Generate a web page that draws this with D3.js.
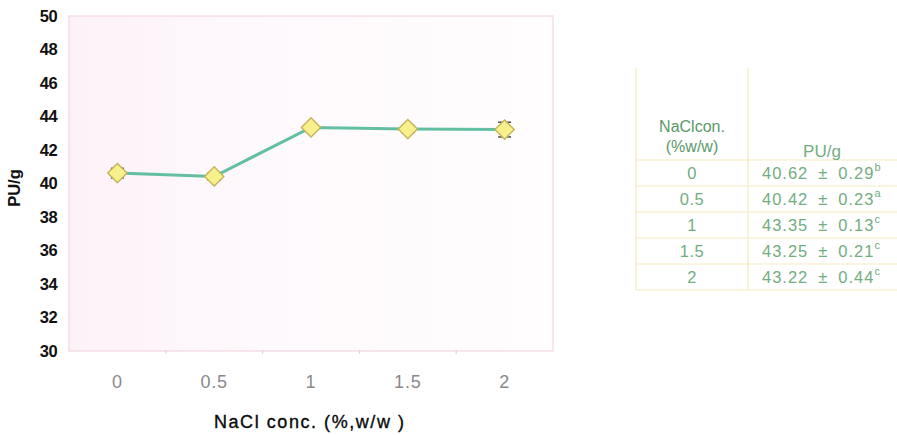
<!DOCTYPE html>
<html>
<head>
<meta charset="utf-8">
<script src="https://cdn.jsdelivr.net/npm/d3@7"></script>
<style>
  html, body { margin: 0; padding: 0; background: #ffffff; }
  svg { display: block; font-family: "Liberation Sans", Arial, sans-serif; }
</style>
</head>
<body>
<svg id="chart" width="897" height="435"></svg>
<script>
// NaCl concentration (% w/w) and protease activity (PU/g)
const categories = ["0", "0.5", "1", "1.5", "2"];
const puValues = [40.62, 40.42, 43.35, 43.25, 43.22];
const puSD = [0.29, 0.23, 0.13, 0.21, 0.44];
const sigLetters = ["b", "a", "c", "c", "c"];
const yTicks = [30, 32, 34, 36, 38, 40, 42, 44, 46, 48, 50];
const tableHeader = ["NaClcon.", "(%w/w)", "PU/g"];

const svg = d3.select("#chart");

// ---- plot frame ----
const plot = { left: 69, right: 553, top: 16, bottom: 351 };

const x = d3.scaleBand().domain(categories).range([plot.left, plot.right]);
const y = d3.scaleLinear().domain([30, 50]).range([plot.bottom, plot.top]);

const defs = svg.append("defs");
const grad = defs.append("linearGradient").attr("id", "bg").attr("x1", "0").attr("x2", "1").attr("y1", "0").attr("y2", "0");
grad.append("stop").attr("offset", "0").attr("stop-color", "#fdf2f8");
grad.append("stop").attr("offset", "0.4").attr("stop-color", "#fef9fc");
grad.append("stop").attr("offset", "1").attr("stop-color", "#fffdfe");

svg.append("rect")
  .attr("x", plot.left).attr("y", plot.top)
  .attr("width", plot.right - plot.left).attr("height", plot.bottom - plot.top)
  .attr("fill", "url(#bg)")
  .attr("stroke", "#f4d6e1").attr("stroke-width", 1.2);

// y axis
const yAxis = d3.axisLeft(y).tickValues(yTicks).tickSize(0).tickPadding(12);
const gy = svg.append("g").attr("transform", `translate(${plot.left},0)`).call(yAxis);
gy.select(".domain").remove();
gy.selectAll("text")
  .attr("font-family", "'Liberation Sans', Arial, sans-serif")
  .attr("font-size", 16.5).attr("font-weight", "bold")
  .attr("letter-spacing", -0.6)
  .attr("fill", "#111");

// x axis with small ticks at band boundaries
const gx = svg.append("g").attr("transform", `translate(0,${plot.bottom})`);
gx.call(d3.axisBottom(x).tickSize(0).tickPadding(24));
gx.select(".domain").remove();
gx.selectAll("text")
  .attr("font-family", "'Liberation Sans', Arial, sans-serif")
  .attr("font-size", 18).attr("fill", "#8a8a8a")
  .attr("letter-spacing", 0.8);
gx.selectAll(".boundary")
  .data(categories.slice(1))
  .enter().append("line")
  .attr("class", "boundary")
  .attr("x1", d => x(d)).attr("x2", d => x(d))
  .attr("y1", -1).attr("y2", 3)
  .attr("stroke", "#f0cdda").attr("stroke-width", 1.2);

// axis titles
svg.append("text")
  .attr("x", 309).attr("y", 428)
  .attr("text-anchor", "middle")
  .attr("font-size", 18).attr("fill", "#0a0a0a")
  .attr("stroke", "#0a0a0a").attr("stroke-width", 0.35)
  .attr("textLength", 190).attr("lengthAdjust", "spacing")
  .text("NaCl conc. (%,w/w )");

svg.append("text")
  .attr("transform", "translate(20,188) rotate(-90)")
  .attr("text-anchor", "middle")
  .attr("font-size", 16.5).attr("font-weight", "bold").attr("fill", "#111")
  .text("PU/g");

// ---- series ----
const cx = d => x(d) + x.bandwidth() / 2;
const points = categories.map((c, i) => ({ c, v: puValues[i], sd: puSD[i] }));

svg.append("path")
  .datum(points)
  .attr("fill", "none")
  .attr("stroke", "#63bfa2")
  .attr("stroke-width", 3)
  .attr("d", d3.line().x(d => cx(d.c)).y(d => y(d.v)));

// error bars (mean ± SD), behind the markers
const eb = svg.append("g").attr("stroke", "#444").attr("stroke-width", 1.4);
points.forEach(d => {
  const xc = cx(d.c);
  eb.append("line").attr("x1", xc).attr("x2", xc).attr("y1", y(d.v - d.sd)).attr("y2", y(d.v + d.sd));
  [d.v - d.sd, d.v + d.sd].forEach(v => {
    eb.append("line").attr("x1", xc - 6.5).attr("x2", xc + 6.5).attr("y1", y(v)).attr("y2", y(v));
  });
});

// diamond markers
svg.append("g").selectAll("path")
  .data(points)
  .enter().append("path")
  .attr("transform", d => `translate(${cx(d.c)},${y(d.v)}) rotate(45)`)
  .attr("d", d3.symbol().type(d3.symbolSquare).size(185))
  .attr("fill", "#f8f08c")
  .attr("stroke", "#c4b45a")
  .attr("stroke-width", 1.4);

// ---- summary table ----
const tbl = { left: 636, mid: 748, right: 897, top: 68, headBottom: 160, rowH: 26 };
const lineColor = "#f4ebbd";
const textGreen = "#72ad80";
const tg = svg.append("g").attr("font-family", "'Liberation Sans', Arial, sans-serif");

const rowsBottom = tbl.headBottom + tbl.rowH * categories.length;
[tbl.left, tbl.mid].forEach(xx => {
  tg.append("line").attr("x1", xx).attr("x2", xx).attr("y1", tbl.top).attr("y2", rowsBottom)
    .attr("stroke", lineColor).attr("stroke-width", 1.2);
});
d3.range(categories.length + 1).forEach(i => {
  const yy = tbl.headBottom + i * tbl.rowH;
  tg.append("line").attr("x1", tbl.left).attr("x2", tbl.right).attr("y1", yy).attr("y2", yy)
    .attr("stroke", lineColor).attr("stroke-width", 1.2);
});

const col1 = (tbl.left + tbl.mid) / 2;
tg.append("text").attr("x", col1).attr("y", 132).attr("text-anchor", "middle")
  .attr("font-size", 16).attr("fill", "#5a9868").text(tableHeader[0]);
tg.append("text").attr("x", col1).attr("y", 152).attr("text-anchor", "middle")
  .attr("font-size", 16).attr("fill", "#5a9868").text(tableHeader[1]);
tg.append("text").attr("x", 822).attr("y", 157).attr("text-anchor", "middle")
  .attr("font-size", 17).attr("fill", textGreen).text(tableHeader[2]);

categories.forEach((c, i) => {
  const base = tbl.headBottom + i * tbl.rowH + 19;
  tg.append("text").attr("x", col1).attr("y", base).attr("text-anchor", "middle")
    .attr("font-size", 16.5).attr("fill", textGreen).attr("letter-spacing", 0.5).text(c);
  const t = tg.append("text").attr("x", 762).attr("y", base)
    .attr("font-size", 16.5).attr("fill", textGreen).attr("letter-spacing", 1);
  t.append("tspan").text(puValues[i].toFixed(2));
  t.append("tspan").attr("dx", 10).text("±");
  t.append("tspan").attr("dx", 10).text(puSD[i].toFixed(2));
  t.append("tspan").attr("dy", -8).attr("font-size", 11).text(sigLetters[i]);
});
</script>
</body>
</html>
